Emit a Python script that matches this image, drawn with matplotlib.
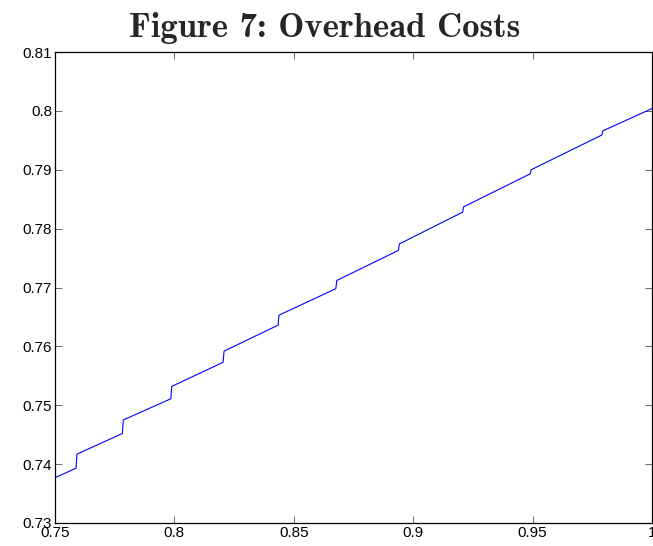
import numpy as np
import matplotlib
matplotlib.use("Agg")
import matplotlib.pyplot as plt

# curve: straight pieces with small upward steps
x_start, y_start = 0.75, 0.7377
x_end, y_end = 1.0, 0.8004
jump_x = [0.7588, 0.7782, 0.7985, 0.8204, 0.8434, 0.8676, 0.8938, 0.9207, 0.9490, 0.9790]
y_before = [0.7393, 0.7452, 0.7511, 0.7573, 0.7636, 0.7698, 0.7763, 0.7828, 0.7893, 0.7959]
y_after = [0.7417, 0.7475, 0.7532, 0.7592, 0.7653, 0.7712, 0.7774, 0.7837, 0.7900, 0.7966]

xticks = [0.75, 0.8, 0.85, 0.9, 0.95, 1.0]
xlabels = ["0.75", "0.8", "0.85", "0.9", "0.95", "1"]
yticks = [0.73, 0.74, 0.75, 0.76, 0.77, 0.78, 0.79, 0.80, 0.81]
ylabels = ["0.73", "0.74", "0.75", "0.76", "0.77", "0.78", "0.79", "0.8", "0.81"]

# build the polyline
xs = [x_start]
ys = [y_start]
for jx, yb, ya in zip(jump_x, y_before, y_after):
    xs += [jx, jx + 0.0004]
    ys += [yb, ya]
xs.append(x_end)
ys.append(y_end)

plt.rcParams['font.family'] = ['Liberation Sans', 'DejaVu Sans']

fig = plt.figure(figsize=(6.53, 5.46), dpi=100)
ax = fig.add_axes([55 / 653, 23 / 546, 597 / 653, 471 / 546])

ax.plot(xs, ys, color=(0, 0, 1), linewidth=0.8)

ax.set_xlim(0.75, 1.0)
ax.set_ylim(0.73, 0.81)
ax.set_xticks(xticks)
ax.set_xticklabels(xlabels)
ax.set_yticks(yticks)
ax.set_yticklabels(ylabels)
ax.tick_params(direction='in', length=5, width=0.6, labelsize=11,
               top=True, right=True, pad=2, color='0.3')
for s in ax.spines.values():
    s.set_linewidth(0.9)

fig.text(0.497, 1 - 37 / 546, "Figure 7: Overhead Costs", family='cmb10',
         fontsize=25, ha='center', va='baseline', color='0.15')

fig.savefig("out.png", dpi=100)
